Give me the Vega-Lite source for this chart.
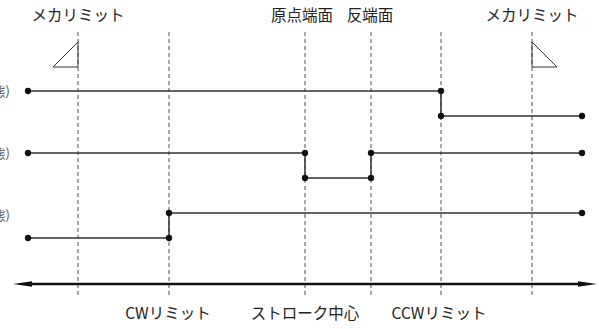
{
  "$schema": "https://vega.github.io/schema/vega-lite/v6.json",
  "width": 599,
  "height": 329,
  "padding": 0,
  "autosize": {"type": "none"},
  "background": "white",
  "config": {"view": {"stroke": null}},
  "datasets": {
    "guides": [
      {"x": 78, "y1": 32, "y2": 298},
      {"x": 169, "y1": 32, "y2": 298},
      {"x": 305, "y1": 32, "y2": 298},
      {"x": 371, "y1": 32, "y2": 298},
      {"x": 441, "y1": 32, "y2": 298},
      {"x": 532, "y1": 32, "y2": 298}
    ],
    "signals": [
      {"sig": "a", "o": 1, "x": 28, "y": 91},
      {"sig": "a", "o": 2, "x": 441, "y": 91},
      {"sig": "a", "o": 3, "x": 441, "y": 116},
      {"sig": "a", "o": 4, "x": 582, "y": 116},
      {"sig": "b", "o": 1, "x": 28, "y": 153},
      {"sig": "b", "o": 2, "x": 305, "y": 153},
      {"sig": "b", "o": 3, "x": 305, "y": 178},
      {"sig": "b", "o": 4, "x": 371, "y": 178},
      {"sig": "b", "o": 5, "x": 371, "y": 153},
      {"sig": "b", "o": 6, "x": 582, "y": 153},
      {"sig": "c", "o": 1, "x": 28, "y": 238},
      {"sig": "c", "o": 2, "x": 169, "y": 238},
      {"sig": "c", "o": 3, "x": 169, "y": 213},
      {"sig": "c", "o": 4, "x": 582, "y": 213}
    ],
    "tris": [
      {"t": "L", "o": 1, "x": 53, "y": 67},
      {"t": "L", "o": 2, "x": 78, "y": 67},
      {"t": "L", "o": 3, "x": 78, "y": 42},
      {"t": "L", "o": 4, "x": 53, "y": 67},
      {"t": "R", "o": 1, "x": 532, "y": 42},
      {"t": "R", "o": 2, "x": 532, "y": 67},
      {"t": "R", "o": 3, "x": 557, "y": 67},
      {"t": "R", "o": 4, "x": 532, "y": 42}
    ],
    "labels": [
      {"x": 78, "y": 16, "label": "メカリミット"},
      {"x": 532, "y": 16, "label": "メカリミット"},
      {"x": 302, "y": 16, "label": "原点端面"},
      {"x": 370, "y": 16, "label": "反端面"},
      {"x": 168, "y": 314, "label": "CWリミット"},
      {"x": 305, "y": 314, "label": "ストローク中心"},
      {"x": 439, "y": 314, "label": "CCWリミット"}
    ],
    "side": [
      {"x": 10, "y": 92, "label": "態)"},
      {"x": 10, "y": 154, "label": "態)"},
      {"x": 10, "y": 216, "label": "態)"}
    ]
  },
  "layer": [
    {
      "data": {"name": "guides"},
      "mark": {"type": "rule", "strokeDash": [4, 3], "color": "#707070", "strokeWidth": 1.2},
      "encoding": {
        "x": {"field": "x", "type": "quantitative", "scale": {"domain": [0, 599], "nice": false, "zero": false}, "axis": null},
        "y": {"field": "y1", "type": "quantitative", "scale": {"domain": [329, 0], "nice": false, "zero": false}, "axis": null},
        "y2": {"field": "y2"}
      }
    },
    {
      "data": {"name": "signals"},
      "mark": {"type": "line", "color": "#333333", "strokeWidth": 1.5},
      "encoding": {
        "x": {"field": "x", "type": "quantitative"},
        "y": {"field": "y", "type": "quantitative"},
        "detail": {"field": "sig"},
        "order": {"field": "o"}
      }
    },
    {
      "data": {"name": "signals"},
      "mark": {"type": "point", "filled": true, "color": "#111111", "size": 40, "opacity": 1},
      "encoding": {
        "x": {"field": "x", "type": "quantitative"},
        "y": {"field": "y", "type": "quantitative"}
      }
    },
    {
      "data": {"name": "tris"},
      "mark": {"type": "line", "color": "#333333", "strokeWidth": 1},
      "encoding": {
        "x": {"field": "x", "type": "quantitative"},
        "y": {"field": "y", "type": "quantitative"},
        "detail": {"field": "t"},
        "order": {"field": "o"}
      }
    },
    {
      "data": {"values": [{"x1": 25, "x2": 585, "y": 284}]},
      "mark": {"type": "rule", "color": "#111111", "strokeWidth": 2.5},
      "encoding": {
        "x": {"field": "x1", "type": "quantitative"},
        "x2": {"field": "x2"},
        "y": {"field": "y", "type": "quantitative"}
      }
    },
    {
      "data": {"values": [{"x": 22.5, "y": 284}]},
      "mark": {"type": "point", "filled": true, "opacity": 1, "color": "#111111", "size": 361, "shape": "M-1,0L1,-0.28L1,0.28Z"},
      "encoding": {
        "x": {"field": "x", "type": "quantitative"},
        "y": {"field": "y", "type": "quantitative"}
      }
    },
    {
      "data": {"values": [{"x": 587.5, "y": 284}]},
      "mark": {"type": "point", "filled": true, "opacity": 1, "color": "#111111", "size": 361, "shape": "M1,0L-1,-0.28L-1,0.28Z"},
      "encoding": {
        "x": {"field": "x", "type": "quantitative"},
        "y": {"field": "y", "type": "quantitative"}
      }
    },
    {
      "data": {"name": "labels"},
      "mark": {"type": "text", "font": "Noto Sans CJK JP", "fontSize": 15.5, "color": "#222222", "align": "center", "baseline": "middle"},
      "encoding": {
        "x": {"field": "x", "type": "quantitative"},
        "y": {"field": "y", "type": "quantitative"},
        "text": {"field": "label"}
      }
    },
    {
      "data": {"name": "side"},
      "mark": {"type": "text", "font": "Noto Sans CJK JP", "fontSize": 13, "color": "#555555", "align": "right", "baseline": "middle"},
      "encoding": {
        "x": {"field": "x", "type": "quantitative"},
        "y": {"field": "y", "type": "quantitative"},
        "text": {"field": "label"}
      }
    }
  ]
}
